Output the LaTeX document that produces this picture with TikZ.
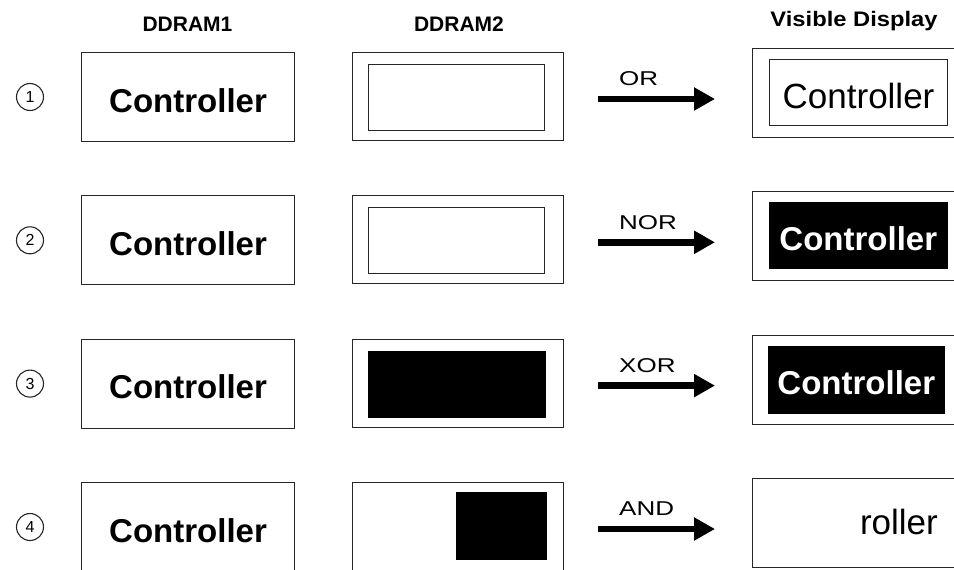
\documentclass[tikz,border=0pt]{standalone}
\usepackage{fontspec}
\setmainfont{Liberation Sans}
\usetikzlibrary{arrows.meta}

\tikzset{
  frame/.style={draw=black!85, line width=1.1pt, rectangle, inner sep=0pt, anchor=north west},
  solid block/.style={fill=black, draw=black, line width=0.6pt, rectangle, inner sep=0pt, anchor=north west},
  header/.style={font=\bfseries\fontsize{21}{25}\selectfont, inner sep=0pt},
  boldtext/.style={font=\bfseries\fontsize{33}{38}\selectfont, inner sep=0pt},
  plaintext/.style={font=\fontsize{35}{40}\selectfont, inner sep=0pt},
  oplabel/.style={font=\fontsize{20}{24}\selectfont, inner sep=0pt, anchor=west},
  rownum/.style={circle, draw=black!85, line width=1.1pt, minimum size=27pt, inner sep=0pt,
                 font=\fontsize{16}{19}\selectfont},
  oparrow/.style={line width=6.5pt, -{Triangle[length=21pt,width=22pt]}},
}
\newcommand{\widetext}[2]{\scalebox{#1}[1]{#2}}

\begin{document}
\begin{tikzpicture}[x=1pt, y=-1pt]
  \useasboundingbox (0,0) rectangle (954,570);
  \clip (0,0) rectangle (954,570);
  \fill[white] (0,0) rectangle (954,570);

  % column headings
  \node[header] (h1) at (187.5,24) {DDRAM1};
  \node[header] (h2) at (459,24) {DDRAM2};
  \node[header] (h3) at (854,21) {\widetext{1.13}{Visible Display}};

  % one row per logic operation
  \foreach \i/\op/\y in {1/OR/52, 2/NOR/195.3, 3/XOR/338.6, 4/AND/482} {
    % row number
    \node[rownum] (n\i) at (30,\y+45) {\i};
    % DDRAM1 box
    \node[frame, minimum width=213pt, minimum height=89pt] (a\i) at (81,\y) {};
    \node[boldtext] (at\i) at ([yshift=-3.5pt]a\i.center) {Controller};
    % DDRAM2 box
    \node[frame, minimum width=211pt, minimum height=88pt] (b\i) at (352,\y) {};
    % operation arrow
    \coordinate (s\i) at (598,\y+47);
    \coordinate (e\i) at (715,\y+47);
    \draw[oparrow] (s\i) -- (e\i);
    \node[oplabel] (op\i) at (619,\y+27) {\widetext{1.3}{\op}};
    % visible display box (runs past the right edge)
    \node[frame, minimum width=230pt, minimum height=89pt] (c\i) at (752,\y-4) {};
  }

  % DDRAM2 contents
  \node[frame, minimum width=176pt, minimum height=66pt] (bi1) at (368,64) {};
  \node[frame, minimum width=176pt, minimum height=66pt] (bi2) at (368,207.3) {};
  \node[solid block, minimum width=177pt, minimum height=66pt] (bi3) at (368,350.6) {};
  \node[solid block, minimum width=90pt, minimum height=67pt] (bi4) at (456,492) {};

  % visible display contents
  \node[frame, minimum width=178pt, minimum height=66pt] (ci1) at (769,59) {};
  \node[plaintext] (ct1) at ([yshift=-3pt]ci1.center) {Controller};
  \node[solid block, minimum width=178pt, minimum height=66pt] (ci2) at (769,202.3) {};
  \node[boldtext, text=white] (ct2) at ([yshift=-3pt]ci2.center) {Controller};
  \node[solid block, minimum width=176pt, minimum height=67pt] (ci3) at (768,345.6) {};
  \node[boldtext, text=white] (ct3) at ([yshift=-3pt]ci3.center) {Controller};
  \node[plaintext, anchor=east] (ct4) at (938,522) {roller};
\end{tikzpicture}
\end{document}
